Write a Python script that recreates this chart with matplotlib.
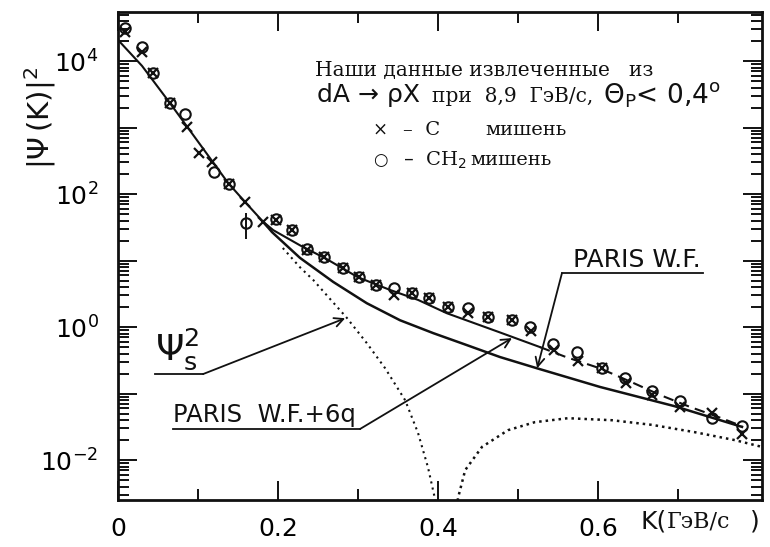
import numpy as np
import matplotlib
matplotlib.use("Agg")
import matplotlib.pyplot as plt
from matplotlib.ticker import FixedLocator, FuncFormatter, LogLocator, NullFormatter

plt.rcParams['mathtext.fontset'] = 'dejavusans'
plt.rcParams['font.family'] = ['DejaVu Sans']

# ---------------- data ----------------
# C target (crosses)
k_cross = [0.009, 0.030, 0.044, 0.065, 0.086, 0.101, 0.117, 0.139, 0.159, 0.181,
           0.197, 0.2175, 0.236, 0.257, 0.281, 0.301, 0.3225, 0.345, 0.368, 0.389,
           0.412, 0.438, 0.4625, 0.4925, 0.516, 0.545, 0.575, 0.605, 0.635, 0.668,
           0.703, 0.7425, 0.78]
psi_cross = [27500, 13800, 6610, 2340, 1020, 417, 302, 141, 75.9, 38.0,
             40.7, 28.8, 14.5, 11.2, 7.76, 5.62, 4.27, 3.02, 3.24, 2.75,
             2.00, 1.62, 1.41, 1.27, 0.871, 0.447, 0.309, 0.240, 0.145, 0.0955,
             0.0631, 0.0513, 0.0245]

# CH2 target (circles)
k_circ = [0.009, 0.030, 0.044, 0.065, 0.084, 0.120, 0.139, 0.160, 0.197, 0.2175,
          0.236, 0.257, 0.281, 0.301, 0.3225, 0.345, 0.368, 0.389, 0.412, 0.438,
          0.4625, 0.4925, 0.515, 0.544, 0.574, 0.605, 0.634, 0.668, 0.703, 0.7425,
          0.78]
psi_circ = [31600, 16200, 6610, 2340, 1580, 214, 141, 36.3, 41.7, 28.8,
            15.1, 11.2, 7.76, 5.62, 4.27, 3.89, 3.24, 2.75, 2.00, 1.95,
            1.41, 1.27, 1.00, 0.550, 0.417, 0.240, 0.170, 0.110, 0.0776, 0.0427,
            0.0324]
# error bar on the circle at K = 0.16
err_k = [0.160]
err_val = [36.3]
err_lo = [20.9]
err_hi = [51.3]

# PARIS W.F. + 6q (solid part, then dashed part)
k_6q_solid = [0.0, 0.03, 0.065, 0.1375, 0.159, 0.181, 0.194, 0.2275, 0.26, 0.30,
              0.34, 0.375, 0.411, 0.4775, 0.5275]
psi_6q_solid = [20900, 8510, 2340, 148, 75.9, 38.9, 28.8, 17.0, 10.7, 5.62,
                3.63, 2.57, 1.62, 0.832, 0.501]
k_6q_dash = [0.5275, 0.56, 0.6025, 0.644, 0.6775, 0.715, 0.75, 0.78]
psi_6q_dash = [0.501, 0.355, 0.240, 0.145, 0.0955, 0.0631, 0.0447, 0.0324]

# PARIS W.F.
k_paris = [0.181, 0.1925, 0.2275, 0.269, 0.311, 0.3525, 0.394, 0.436, 0.4775,
           0.524, 0.6025, 0.696, 0.78]
psi_paris = [38.9, 26.9, 11.0, 4.79, 2.29, 1.27, 0.813, 0.537, 0.355,
             0.240, 0.126, 0.0646, 0.0316]

# psi_s^2 (two lobes around the node)
k_s1 = [0.206, 0.2275, 0.244, 0.286, 0.311, 0.334, 0.359, 0.375, 0.3875, 0.396, 0.401]
psi_s1 = [15.5, 7.94, 5.13, 1.38, 0.575, 0.240, 0.0794, 0.0257, 0.00776, 0.00269, 0.001]
k_s2 = [0.421, 0.425, 0.434, 0.455, 0.4875, 0.521, 0.5625, 0.6175, 0.6675,
        0.721, 0.771, 0.805]
psi_s2 = [0.001, 0.00269, 0.00708, 0.0158, 0.0282, 0.0372, 0.0427, 0.0398,
          0.0339, 0.0263, 0.0200, 0.0158]

x_ticks = [0.0, 0.2, 0.4, 0.6]
x_ticklabels = ["0", "0.2", "0.4", "0.6"]
x_minor = [0.1, 0.3, 0.5, 0.7]
y_decades = [-3, -2, -1, 0, 1, 2, 3, 4]
y_labelled = [-2, 0, 2, 4]

# ---------------- figure ----------------
fig = plt.figure(figsize=(7.70, 5.47), dpi=100)
ax = fig.add_axes([118/770, 47/547, 644/770, 488/547])
ax.set_yscale('log')
ax.set_xlim(0, 0.805)
ax.set_ylim(10**-2.60, 10**4.74)

ink = '#111111'
ax.plot(k_6q_solid, psi_6q_solid, color=ink, lw=1.5)
ax.plot(k_6q_dash, psi_6q_dash, color=ink, lw=1.5, ls=(0, (5, 3)))
ax.plot(k_paris, psi_paris, color=ink, lw=1.8)
ax.plot(k_s1, psi_s1, color=ink, lw=1.5, ls=(0, (1, 2)))
ax.plot(k_s2, psi_s2, color=ink, lw=1.8, ls=(0, (1, 1.6)))

ax.plot(k_cross, psi_cross, ls='none', marker='x', ms=7, mew=1.6, color=ink)
ax.plot(k_circ, psi_circ, ls='none', marker='o', ms=7.5, mew=1.5, mfc='none', mec=ink)
ax.errorbar(err_k, err_val,
            yerr=[[v - lo for v, lo in zip(err_val, err_lo)],
                  [hi - v for v, hi in zip(err_val, err_hi)]],
            fmt='none', ecolor=ink, elinewidth=1.4, capsize=0)

# axes styling
for s in ax.spines.values():
    s.set_linewidth(2.0)
    s.set_color(ink)
ax.xaxis.set_major_locator(FixedLocator(x_ticks))
ax.set_xticklabels(x_ticklabels)
ax.xaxis.set_minor_locator(FixedLocator(x_minor))
ax.yaxis.set_major_locator(FixedLocator([10.0**d for d in y_decades]))
ax.yaxis.set_major_formatter(FuncFormatter(
    lambda v, p: (r'$10^{%d}$' % round(np.log10(v))) if round(np.log10(v)) in y_labelled else ''))
ax.yaxis.set_minor_locator(LogLocator(base=10, subs=np.arange(2, 10), numticks=50))
ax.yaxis.set_minor_formatter(NullFormatter())
ax.tick_params(which='both', direction='in', top=True, right=True, color=ink, width=1.4)
ax.tick_params(axis='x', which='major', length=14, pad=12, labelsize=18)
ax.tick_params(axis='x', which='minor', length=8)
ax.tick_params(axis='y', which='major', length=14, pad=14, labelsize=18)
ax.tick_params(axis='y', which='minor', length=8)

# y label
ax.text(-0.121, 0.783, r'$|\Psi\,(\mathrm{K})|^2$', transform=ax.transAxes, rotation=90,
        ha='center', va='center', fontsize=21, color=ink)
# x label
ax.text(0.812, -0.045, 'K(', transform=ax.transAxes, ha='left', va='center',
        fontsize=18, color=ink)
ax.text(0.852, -0.045, 'ГэВ/с', transform=ax.transAxes, ha='left', va='center',
        fontsize=16, family='DejaVu Serif', color=ink)
ax.text(0.982, -0.045, ')', transform=ax.transAxes, ha='left', va='center',
        fontsize=18, color=ink)

# header text block
serif = ['DejaVu Serif', 'DejaVu Sans']
ax.text(0.306, 0.881, 'Наши данные извлеченные   из', transform=ax.transAxes,
        ha='left', va='center', fontsize=14.5, family=serif, color=ink)
ax.text(0.309, 0.830, 'dA → ρX', transform=ax.transAxes, ha='left', va='center',
        fontsize=18, color=ink)
ax.text(0.488, 0.826, 'при  8,9  ГэВ/с,', transform=ax.transAxes, ha='left', va='center',
        fontsize=14.5, family=serif, color=ink)
ax.text(0.753, 0.830, r'Θ$_\mathrm{P}$< 0,4$^\mathrm{o}$', transform=ax.transAxes,
        ha='left', va='center', fontsize=19, color=ink)
ax.text(0.407, 0.758, '×', transform=ax.transAxes, ha='center', va='center',
        fontsize=13, family=serif, color=ink)
ax.text(0.443, 0.758, '–  C', transform=ax.transAxes, ha='left', va='center',
        fontsize=14, family=serif, color=ink)
ax.text(0.570, 0.758, 'мишень', transform=ax.transAxes, ha='left', va='center',
        fontsize=14, family=serif, color=ink)
ax.text(0.408, 0.697, '○', transform=ax.transAxes, ha='center', va='center',
        fontsize=12, family=['DejaVu Sans'], color=ink)
ax.text(0.443, 0.697, r'–  CH$_2$', transform=ax.transAxes, ha='left', va='center',
        fontsize=14, family=serif, color=ink)
ax.text(0.547, 0.697, 'мишень', transform=ax.transAxes, ha='left', va='center',
        fontsize=14, family=serif, color=ink)

# annotations
arrow = dict(arrowstyle='->', color=ink, lw=1.3, shrinkA=0, shrinkB=0,
             mutation_scale=16)
# PARIS W.F.
ax.text(0.7065, 0.468, 'PARIS W.F.', transform=ax.transAxes, ha='left',
        va='bottom', fontsize=18, color=ink)
ax.plot([0.6894, 0.9084], [0.465, 0.465], transform=ax.transAxes, color=ink, lw=1.3)
ax.annotate('', xy=(0.524, 0.240), xycoords='data',
            xytext=(0.6894, 0.465), textcoords='axes fraction', arrowprops=arrow)
# PARIS W.F.+6q
ax.text(0.0854, 0.149, 'PARIS  W.F.+6q', transform=ax.transAxes, ha='left',
        va='bottom', fontsize=17.5, color=ink)
ax.plot([0.0854, 0.3758], [0.1455, 0.1455], transform=ax.transAxes, color=ink, lw=1.3)
ax.annotate('', xy=(0.4925, 0.684), xycoords='data',
            xytext=(0.3758, 0.1455), textcoords='axes fraction', arrowprops=arrow)
# psi_s^2
ax.text(0.0575, 0.262, r'$\Psi_\mathrm{s}^2$', transform=ax.transAxes, ha='left',
        va='bottom', fontsize=26, color=ink)
ax.plot([0.0575, 0.132], [0.258, 0.258], transform=ax.transAxes, color=ink, lw=1.3)
ax.annotate('', xy=(0.284, 1.36), xycoords='data',
            xytext=(0.132, 0.258), textcoords='axes fraction', arrowprops=arrow)

fig.savefig('out.png', dpi=100, facecolor='white')
